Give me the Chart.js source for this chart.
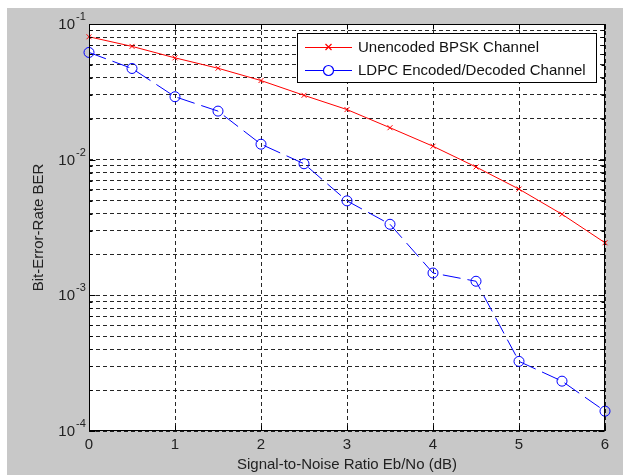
<!DOCTYPE html>
<html>
<head>
<meta charset="utf-8">
<script src="https://cdn.jsdelivr.net/npm/chart.js@4.4.1/dist/chart.umd.min.js"></script>
<style>
  html, body { margin: 0; padding: 0; background: #fff; }
  #wrap { width: 623px; height: 475px; }
</style>
</head>
<body>
<div id="wrap"><canvas id="berChart"></canvas></div>
<script>
// Eb/No points (dB)
var snr = [0, 0.5, 1, 1.5, 2, 2.5, 3, 3.5, 4, 4.5, 5, 5.5, 6];
// BER
var berUncoded = [0.0805, 0.0684, 0.0563, 0.0472, 0.0383, 0.0298, 0.0234, 0.0172, 0.01256, 0.00883, 0.00607, 0.00396, 0.00244];
var berLdpc = [0.0617, 0.047, 0.0291, 0.0228, 0.0130, 0.00933, 0.00497, 0.00334, 0.00146, 0.00127, 0.000326, 0.000233, 0.00014];
var xTicks = [0, 1, 2, 3, 4, 5, 6];
var yDecades = [1e-4, 1e-3, 1e-2, 1e-1];
var yExponents = ['-4', '-3', '-2', '-1'];
var seriesNames = ['Unencoded BPSK Channel', 'LDPC Encoded/Decoded Channel'];
var seriesColors = ['#ff0000', '#0000ff'];

var FONT = "'Liberation Sans', Arial, Helvetica, sans-serif";

// log grid: 1..9 x each decade
var yGridValues = [];
for (var d = 0; d < yDecades.length - 1; d++) {
  for (var m = 1; m < 10; m++) yGridValues.push(yDecades[d] * m);
}
yGridValues.push(yDecades[yDecades.length - 1]);

var matlabLook = {
  id: 'matlabLook',
  beforeDraw: function(chart) {
    var c = chart.ctx;
    c.save();
    c.fillStyle = '#ffffff';
    c.fillRect(0, 0, chart.width, chart.height);
    c.fillStyle = '#c8c8c8';
    c.fillRect(7, 8, chart.width - 7, chart.height - 8);
    var a = chart.chartArea;
    c.fillStyle = '#ffffff';
    c.fillRect(a.left, a.top, a.right - a.left, a.bottom - a.top);
    c.restore();
  },
  afterDatasetsDraw: function(chart) {
    var c = chart.ctx, a = chart.chartArea;
    var xs = chart.scales.x, ys = chart.scales.y;
    var L = Math.round(a.left) + 0.5, R = Math.round(a.right) - 0.5;
    var T = Math.round(a.top) + 0.5, B = Math.round(a.bottom) - 0.5;
    c.save();
    c.strokeStyle = '#000';
    c.lineWidth = 1;
    c.strokeRect(L, T, R - L, B - T);
    // inner ticks
    c.beginPath();
    xTicks.forEach(function(v) {
      var px = Math.round(xs.getPixelForValue(v)) + 0.5;
      c.moveTo(px, B); c.lineTo(px, B - 5);
      c.moveTo(px, T); c.lineTo(px, T + 5);
    });
    yGridValues.forEach(function(v) {
      var py = Math.round(ys.getPixelForValue(v)) + 0.5;
      var len = yDecades.indexOf(v) >= 0 ? 6 : 3;
      c.moveTo(L, py); c.lineTo(L + len, py);
      c.moveTo(R, py); c.lineTo(R - len, py);
    });
    c.stroke();
    // y tick labels 10^n
    c.fillStyle = '#222';
    yDecades.forEach(function(v, i) {
      var py = ys.getPixelForValue(v);
      c.font = '15px ' + FONT;
      c.textAlign = 'right';
      c.textBaseline = 'middle';
      c.fillText('10', 75, py + 1);
      c.font = '11px ' + FONT;
      c.textAlign = 'left';
      c.fillText(yExponents[i], 76, py - 7);
    });
    c.restore();
  },
  afterDraw: function(chart) {
    // MATLAB style legend box
    var c = chart.ctx;
    var bx = 297.5, by = 33.5, bw = 299, bh = 49;
    c.save();
    c.fillStyle = '#fff';
    c.fillRect(bx, by, bw, bh);
    c.strokeStyle = '#000';
    c.lineWidth = 1;
    c.strokeRect(bx, by, bw, bh);
    seriesNames.forEach(function(name, i) {
      var y = 47 + i * 23;
      c.fillStyle = seriesColors[i];
      c.fillRect(305, y, 47, 1);
      c.strokeStyle = seriesColors[i];
      c.lineWidth = 1.2;
      c.beginPath();
      if (i === 1) {
        c.arc(328.5, y + 0.5, 5, 0, Math.PI * 2);
        c.fillStyle = '#fff';
        c.fill();
      } else {
        c.moveTo(325.5, y - 3); c.lineTo(331.5, y + 3);
        c.moveTo(331.5, y - 3); c.lineTo(325.5, y + 3);
      }
      c.stroke();
      c.fillStyle = '#111';
      c.font = '15px ' + FONT;
      c.textAlign = 'left';
      c.textBaseline = 'middle';
      c.fillText(name, 358, y + 1);
    });
    c.restore();
  }
};

var ctx = document.getElementById('berChart').getContext('2d');
var berChart = new Chart(ctx, {
  type: 'line',
  data: {
    datasets: [{
      label: seriesNames[0],
      data: snr.map(function(x, i) { return {x: x, y: berUncoded[i]}; }),
      borderColor: seriesColors[0],
      backgroundColor: seriesColors[0],
      borderWidth: 1,
      pointStyle: 'crossRot',
      pointRadius: 3.5,
      pointBorderColor: seriesColors[0],
      pointBorderWidth: 1,
      tension: 0,
      fill: false,
      clip: 10
    }, {
      label: seriesNames[1],
      data: snr.map(function(x, i) { return {x: x, y: berLdpc[i]}; }),
      borderColor: seriesColors[1],
      backgroundColor: 'rgba(0,0,0,0)',
      borderWidth: 1,
      borderDash: [18, 7],
      pointStyle: 'circle',
      pointRadius: 5,
      pointBorderColor: seriesColors[1],
      pointBorderWidth: 1,
      tension: 0,
      fill: false,
      clip: 10
    }]
  },
  options: {
    responsive: true,
    maintainAspectRatio: false,
    animation: false,
    layout: { padding: { left: 0, top: 24, right: 18, bottom: 0 } },
    plugins: {
      legend: { display: false },
      tooltip: { enabled: false }
    },
    scales: {
      x: {
        type: 'linear',
        min: 0,
        max: 6,
        afterBuildTicks: function(scale) {
          scale.ticks = xTicks.map(function(v) { return {value: v}; });
        },
        afterFit: function(scale) { scale.height = 44; },
        ticks: {
          color: '#222',
          padding: 5,
          font: { family: FONT, size: 15 },
          maxRotation: 0,
          autoSkip: false
        },
        grid: { color: 'rgba(0,0,0,0.85)', lineWidth: 1, drawTicks: false },
        border: { display: false, dash: [4, 3] },
        title: {
          display: true,
          text: 'Signal-to-Noise Ratio Eb/No (dB)',
          color: '#222',
          font: { family: FONT, size: 15 },
          padding: { top: 0, bottom: 1 }
        }
      },
      y: {
        type: 'logarithmic',
        min: 1e-4,
        max: 1e-1,
        afterBuildTicks: function(scale) {
          scale.ticks = yGridValues.map(function(v) { return {value: v}; });
        },
        afterFit: function(scale) { scale.width = 89; },
        ticks: { display: false },
        grid: { color: 'rgba(0,0,0,0.85)', lineWidth: 1, drawTicks: false },
        border: { display: false, dash: [4, 3] },
        title: {
          display: true,
          text: 'Bit-Error-Rate BER',
          color: '#222',
          font: { family: FONT, size: 15 },
          padding: { top: 30, bottom: 0 }
        }
      }
    }
  },
  plugins: [matlabLook]
});
</script>
</body>
</html>
